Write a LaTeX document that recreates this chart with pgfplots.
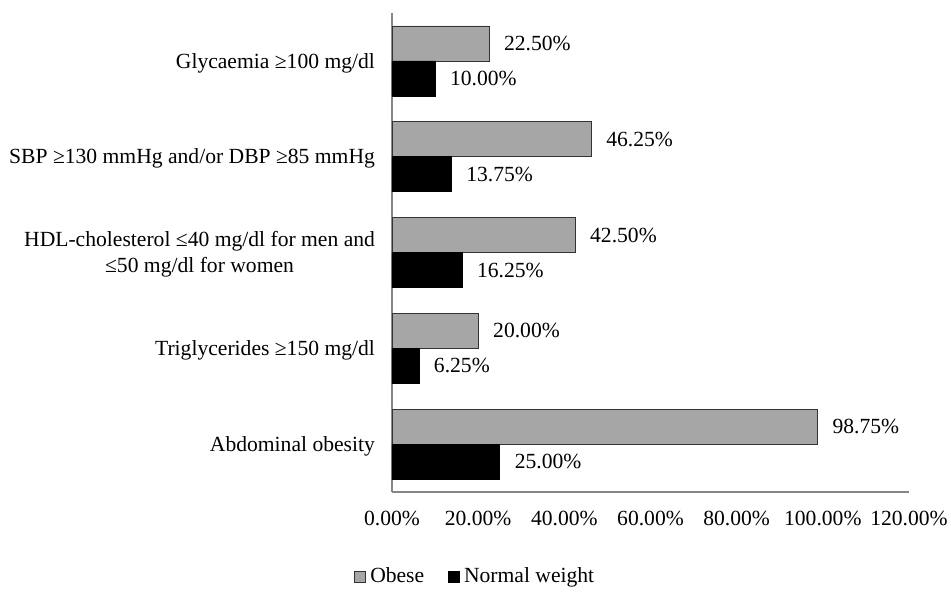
\documentclass[border=0pt]{standalone}
\usepackage{fontspec}
\setmainfont{Liberation Serif}
\usepackage{pgfplots}
\pgfplotsset{compat=1.18}
\definecolor{obese}{RGB}{166,166,166}
\definecolor{axisgray}{RGB}{134,134,134}
\begin{document}
\begin{tikzpicture}[font=\fontsize{10.8}{12.8}\selectfont]
\begin{axis}[
 at={(0,0)}, anchor=south west,
 scale only axis, width=258.5pt, height=239.5pt,
 xbar, bar width=17.5pt,
 xmin=0, xmax=120, ymin=-0.5, ymax=4.5,
 axis lines=left, axis line style={-, draw=axisgray, line width=0.8pt},
 xtick={0,20,...,120},
 xticklabels={0.00\%,20.00\%,40.00\%,60.00\%,80.00\%,100.00\%,120.00\%},
 ytick={0,1,2,3,4},
 yticklabels={Abdominal obesity, Triglycerides ≥150 mg/dl, {HDL-cholesterol ≤40 mg/dl for men and\\≤50 mg/dl for women}, SBP ≥130 mmHg and/or DBP ≥85 mmHg, Glycaemia ≥100 mg/dl},
 yticklabel style={align=center, xshift=-5pt, yshift=-1pt},
 xticklabel style={yshift=-6pt},
 major tick length=0pt,
 point meta=x,
 nodes near coords={\pgfmathprintnumber[fixed,fixed zerofill,precision=2]{\pgfplotspointmeta}\%},
 nodes near coords style={anchor=west, xshift=4pt, text=black},
 /pgf/number format/assume math mode=true,
 legend style={at={(-0.085,-0.177)}, anchor=west, draw=none, fill=none, legend columns=2, /tikz/every even column/.append style={column sep=10pt}},
 legend image code/.code={\draw[#1] (0pt,-2.75pt) rectangle (5.5pt,2.75pt);},
 clip=false,
]
\addplot[fill=obese, draw=black!80, bar shift=8.75pt] coordinates {(98.75,0) (20,1) (42.5,2) (46.25,3) (22.5,4)};
\addplot[fill=black, draw=black, bar shift=-8.75pt] coordinates {(25,0) (6.25,1) (16.25,2) (13.75,3) (10,4)};
\legend{Obese, Normal weight}
\end{axis}
\pgfresetboundingbox
\path[use as bounding box] (-196pt,-51pt) rectangle (279.5pt,246pt);
\end{tikzpicture}
\end{document}
